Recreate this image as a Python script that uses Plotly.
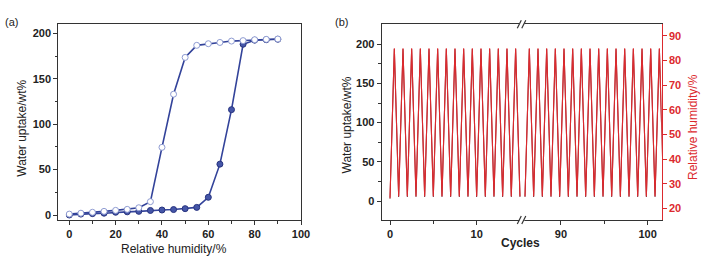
import plotly.graph_objects as go

# ---------------- data ----------------
# (a) water sorption isotherm
ads_rh = [0, 5, 10, 15, 20, 25, 30, 35, 40, 45, 50, 55, 60, 65, 70, 75, 80, 85, 90]
ads_uptake = [0, 1, 1.5, 2, 3, 3.5, 4, 5, 5.5, 6, 7, 8.4, 19.5, 56, 116, 188, 192.5, 193, 193.5]
des_rh = [90, 85, 80, 75, 70, 65, 60, 55, 50, 45, 40, 35, 30, 25, 20, 15, 10, 5, 0]
des_uptake = [193.8, 193.4, 193, 192, 191.5, 190, 188.6, 186.8, 173.5, 133, 74.5, 14.7, 8, 6.2, 5.1, 4, 3, 2, 1]

# (b) cycling, cycles 0-15 (left segment)
cyc_a = [0, 0.5, 1, 1.5, 2, 2.5, 3, 3.5, 4, 4.5, 5, 5.5, 6, 6.5, 7, 7.5, 8, 8.5, 9, 9.5,
         10, 10.5, 11, 11.5, 12, 12.5, 13, 13.5, 14, 14.5, 15]
rh_a = [24.3, 85, 25, 85, 25, 85, 25, 85, 25, 85, 25, 85, 25, 85, 25, 85, 25, 85, 25, 85,
        25, 85, 25, 85, 25, 85, 25, 85, 25, 85, 25]
wu_a = [3, 194, 5, 194, 5, 194, 5, 194, 5, 194, 5, 194, 5, 194, 5, 194, 5, 194, 5, 194,
        5, 194, 5, 194, 5, 194, 5, 194, 5, 194, 5]
# cycles 86-101 (right segment)
cyc_b = [85.85, 86.35, 86.85, 87.35, 87.85, 88.35, 88.85, 89.35, 89.85, 90.35, 90.85, 91.35,
         91.85, 92.35, 92.85, 93.35, 93.85, 94.35, 94.85, 95.35, 95.85, 96.35, 96.85, 97.35,
         97.85, 98.35, 98.85, 99.35, 99.85, 100.35, 100.85, 101.35, 101.85]
rh_b = [25, 85, 25, 85, 25, 85, 25, 85, 25, 85, 25, 85, 25, 85, 25, 85, 25, 85, 25, 85,
        25, 85, 25, 85, 25, 85, 25, 85, 25, 85, 25, 85, 25]
wu_b = [5, 194, 5, 194, 5, 194, 5, 194, 5, 194, 5, 194, 5, 194, 5, 194, 5, 194, 5, 194,
        5, 194, 5, 194, 5, 194, 5, 194, 5, 194, 5, 194, 5]

# tick labels
a_xticks = [0, 20, 40, 60, 80, 100]
a_yticks = [0, 50, 100, 150, 200]
b_xticks_left = [0, 10]
b_xticks_right = [90, 100]
b_yticks = [0, 50, 100, 150, 200]
b_rhticks = [20, 30, 40, 50, 60, 70, 80, 90]

# ---------------- layout helpers ----------------
W, H = 727, 265


def fx(px):
    return px / W


def fy(py):
    return 1 - py / H


FONT = "Liberation Sans, Arial, sans-serif"
NAVY = "#33439a"
RED = "#dc2a2e"
DARKRED = "#8e2a35"
FRAME = "#333333"

fig = go.Figure()

# (a)
fig.add_trace(go.Scatter(x=ads_rh, y=ads_uptake, xaxis="x", yaxis="y", mode="lines+markers",
                         line=dict(color=NAVY, width=1.6),
                         marker=dict(size=6, color="#4556a8", line=dict(color="#27337f", width=1)),
                         showlegend=False))
fig.add_trace(go.Scatter(x=des_rh, y=des_uptake, xaxis="x", yaxis="y", mode="lines+markers",
                         line=dict(color=NAVY, width=1.6),
                         marker=dict(size=6, color="white", line=dict(color="#8e9bd2", width=1)),
                         showlegend=False))

# (b)
for cx, wu, xa in [(cyc_a, wu_a, "x2"), (cyc_b, wu_b, "x3")]:
    fig.add_trace(go.Scatter(x=cx, y=wu, xaxis=xa, yaxis="y2", mode="lines",
                             line=dict(color=DARKRED, width=1.1), showlegend=False))
for cx, rh, xa in [(cyc_a, rh_a, "x2"), (cyc_b, rh_b, "x3")]:
    fig.add_trace(go.Scatter(x=cx, y=rh, xaxis=xa, yaxis="y3", mode="lines",
                             line=dict(color=RED, width=1.1), showlegend=False))

tickfont = dict(family=FONT, size=11, color="#222", weight="bold")
redfont = dict(family=FONT, size=11, color=RED, weight="bold")

ydom = [fy(220), fy(24)]
ydom_b = [fy(220), fy(24.3)]

common = dict(showgrid=False, zeroline=False, showline=True, linewidth=1.2,
              ticks="outside", ticklen=4, tickwidth=1, automargin=False)

fig.update_layout(
    width=W, height=H,
    margin=dict(l=0, r=0, t=0, b=0),
    paper_bgcolor="white", plot_bgcolor="white",
    xaxis=dict(domain=[fx(58.3), fx(301)], range=[-4.75, 100], anchor="y",
               tickvals=a_xticks, linecolor=FRAME, tickcolor=FRAME, mirror=True,
               tickfont=tickfont,
               minor=dict(tickvals=[10, 30, 50, 70, 90], ticks="outside", ticklen=2.5, tickcolor=FRAME),
               **common),
    yaxis=dict(domain=ydom, range=[-5.5, 210.3], anchor="x",
               tickvals=a_yticks, linecolor=FRAME, tickcolor=FRAME, mirror=True,
               tickfont=tickfont,
               minor=dict(tickvals=[25, 75, 125, 175], ticks="outside", ticklen=2.5, tickcolor=FRAME),
               **common),
    xaxis2=dict(domain=[fx(381.7), fx(521.7)], range=[-0.958, 15.2], anchor="y2",
                tickvals=b_xticks_left, linecolor=FRAME, tickcolor=FRAME, mirror=True,
                tickfont=tickfont,
                minor=dict(tickvals=[5], ticks="outside", ticklen=2.5, tickcolor=FRAME),
                **common),
    xaxis3=dict(domain=[fx(521.7), fx(661.7)], range=[85.47, 101.62], anchor="y2",
                tickvals=b_xticks_right, linecolor=FRAME, tickcolor=FRAME, mirror=True,
                tickfont=tickfont,
                minor=dict(tickvals=[95], ticks="outside", ticklen=2.5, tickcolor=FRAME),
                **common),
    yaxis2=dict(domain=ydom_b, range=[-24.25, 225.5], anchor="x2", side="left",
                tickvals=b_yticks, linecolor=FRAME, tickcolor=FRAME,
                tickfont=tickfont,
                minor=dict(tickvals=[25, 75, 125, 175], ticks="outside", ticklen=2.5, tickcolor=FRAME),
                **common),
    yaxis3=dict(domain=ydom_b, range=[15.25, 94.75], anchor="x3", side="right", overlaying="y2",
                tickvals=b_rhticks, linecolor=RED, tickcolor=RED,
                tickfont=redfont, **common),
)

# axis titles and panel labels
ann = [
    dict(text="Water uptake/wt%", x=fx(21.7), y=fy(128), textangle=-90, size=12, color="#222", bold=False),
    dict(text="Relative humidity/%", x=fx(174), y=fy(249), textangle=0, size=12, color="#222", bold=False),
    dict(text="Water uptake/wt%", x=fx(346.5), y=fy(125), textangle=-90, size=12, color="#222", bold=False),
    dict(text="Cycles", x=fx(520), y=fy(243), textangle=0, size=12, color="#222", bold=True),
    dict(text="Relative humidity/%", x=fx(693), y=fy(127), textangle=-90, size=12, color=RED, bold=False),
    dict(text="(a)", x=fx(12), y=fy(22), textangle=0, size=11, color="#222", bold=False),
    dict(text="(b)", x=fx(341.7), y=fy(22), textangle=0, size=11, color="#222", bold=False),
]
for a in ann:
    fig.add_annotation(text=a["text"], x=a["x"], y=a["y"], xref="paper", yref="paper",
                       xanchor="center", yanchor="middle", textangle=a["textangle"], showarrow=False,
                       font=dict(family=FONT, size=a["size"], color=a["color"],
                                 weight="bold" if a["bold"] else "normal"))

# axis break marks
for yb in (24.3, 220):
    fig.add_shape(type="rect", xref="paper", yref="paper",
                  x0=fx(519.3), x1=fx(524.3), y0=fy(yb + 1.5), y1=fy(yb - 1.5),
                  fillcolor="white", line=dict(width=0))
    for xo in (517.3, 521.8):
        fig.add_shape(type="line", xref="paper", yref="paper",
                      x0=fx(xo), y0=fy(yb + 4), x1=fx(xo + 4), y1=fy(yb - 4),
                      line=dict(color=FRAME, width=1.2))

fig.write_html("out.html", config={"displayModeBar": False},
               post_script="document.body.style.margin='0px';")
